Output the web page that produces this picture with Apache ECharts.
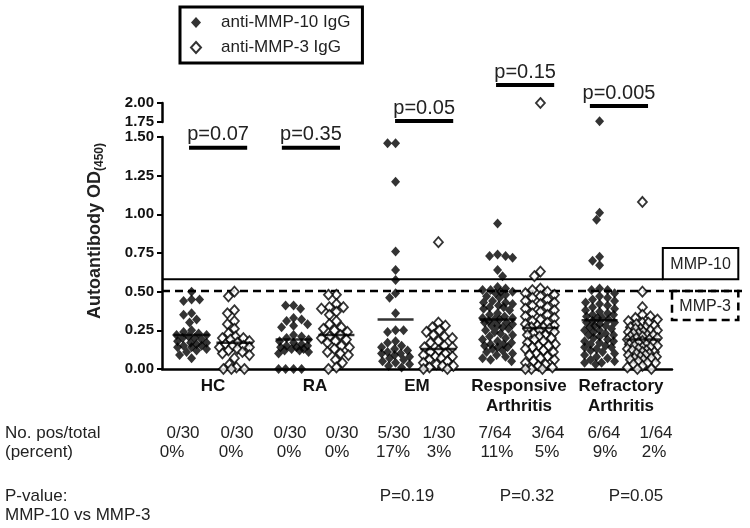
<!DOCTYPE html>
<html><head><meta charset="utf-8">
<script src="https://cdn.jsdelivr.net/npm/echarts@6/dist/echarts.min.js"></script>
<style>html,body{margin:0;padding:0;background:#fff}#c{width:750px;height:528px}</style>
</head><body><div id="c"></div>
<script>
// ---------------- DATA ----------------
const groups = ['HC', 'RA', 'EM', 'Responsive\nArthritis', 'Refractory\nArthritis'];
const yTicksLower = ['0.00','0.25','0.50','0.75','1.00','1.25','1.50'];
const yTicksUpper = ['1.75','2.00'];

const hcMmp10 = [0.50,0.45,0.44,0.45,0.36,0.35,0.32,0.30,0.25,0.24,0.23,0.22,0.22,0.21,0.20,0.20,0.19,0.18,0.17,0.17,0.16,0.15,0.15,0.14,0.14,0.13,0.12,0.11,0.09,0.07];
const hcMmp3 = [0.50,0.47,0.38,0.36,0.31,0.29,0.26,0.23,0.21,0.20,0.20,0.19,0.18,0.17,0.16,0.15,0.15,0.14,0.14,0.13,0.12,0.11,0.10,0.09,0.07,0.03,0.01,0.00,0.00,0.00];
const raMmp10 = [0.41,0.41,0.39,0.33,0.32,0.31,0.29,0.28,0.27,0.22,0.21,0.20,0.19,0.18,0.17,0.16,0.15,0.15,0.14,0.14,0.13,0.13,0.12,0.12,0.11,0.10,0.00,0.00,0.00,0.00];
const raMmp3 = [0.48,0.48,0.42,0.40,0.40,0.39,0.37,0.35,0.31,0.29,0.27,0.26,0.25,0.24,0.22,0.21,0.20,0.19,0.18,0.17,0.15,0.14,0.13,0.11,0.10,0.09,0.06,0.04,0.01,0.00];
const emMmp10 = [1.46,1.46,1.21,0.76,0.64,0.575,0.49,0.46,0.36,0.25,0.25,0.24,0.18,0.17,0.15,0.14,0.13,0.12,0.11,0.10,0.10,0.09,0.08,0.07,0.06,0.05,0.04,0.03,0.02,0.01];
const emMmp3 = [0.82,0.30,0.28,0.27,0.25,0.24,0.22,0.21,0.20,0.18,0.17,0.15,0.14,0.14,0.12,0.11,0.10,0.09,0.08,0.08,0.07,0.06,0.05,0.04,0.03,0.02,0.02,0.01,0.00,0.00];
const respMmp10 = [0.94,0.74,0.73,0.73,0.72,0.64,0.60,
  0.53,0.52,0.51,0.51,0.50,0.50,0.49,0.48,0.47,0.46,
  0.44,0.43,0.43,0.42,0.41,0.40,0.39,0.38,0.36,0.35,
  0.33,0.33,0.32,0.32,0.31,0.30,0.30,0.29,0.28,0.28,
  0.27,0.26,0.25,0.24,0.23,0.22,0.21,0.20,0.19,0.18,
  0.17,0.16,0.16,0.15,0.14,0.14,0.13,0.12,0.11,0.10,
  0.09,0.08,0.07,0.06,0.05,0.40,0.34];
const respMmp3 = [2.00,0.63,0.60,
  0.52,0.51,0.50,0.49,0.48,0.47,0.46,0.45,0.44,0.43,
  0.42,0.41,0.40,0.39,0.38,0.37,0.36,0.35,0.34,0.33,
  0.32,0.31,0.30,0.29,0.28,0.27,0.27,0.26,0.26,0.25,
  0.24,0.23,0.22,0.21,0.20,0.19,0.18,0.17,0.16,0.15,
  0.14,0.13,0.12,0.11,0.10,0.09,0.08,0.07,0.06,0.05,
  0.04,0.03,0.02,0.01,0.00,0.00,0.00,0.28,0.22,0.15];
const refrMmp10 = [1.76,1.01,0.965,0.725,0.70,0.67,
  0.52,0.51,0.51,0.49,0.47,0.46,0.45,0.44,0.43,0.42,
  0.41,0.40,0.39,0.38,0.37,0.36,0.35,0.34,0.33,0.33,
  0.32,0.31,0.30,0.30,0.29,0.28,0.27,0.26,0.25,0.25,
  0.24,0.23,0.22,0.21,0.20,0.19,0.18,0.18,0.17,0.16,
  0.15,0.14,0.13,0.12,0.11,0.10,0.09,0.08,0.07,0.06,
  0.05,0.04,0.04,0.03,0.35,0.28,0.22,0.14];
const refrMmp3 = [1.08,0.50,0.40,
  0.35,0.34,0.33,0.32,0.31,0.30,0.29,0.28,0.27,0.26,
  0.25,0.25,0.24,0.24,0.23,0.23,0.22,0.22,0.21,0.21,
  0.20,0.20,0.19,0.19,0.18,0.18,0.17,0.17,0.16,0.16,
  0.15,0.15,0.14,0.14,0.13,0.13,0.12,0.12,0.11,0.11,
  0.10,0.10,0.09,0.09,0.08,0.08,0.07,0.07,0.06,0.06,
  0.05,0.04,0.04,0.03,0.02,0.01,0.00,0.00,0.30,0.27,0.26];

const mmp10Lines = [0.22, 0.19, 0.32, 0.32, 0.315];
const mmp3Lines = [0.17, 0.22, 0.13, 0.265, 0.19];
const mmp10Cut = 0.58;
const mmp3Cut = 0.505;
const groupPLabels = ['p=0.07', 'p=0.35', 'p=0.05', 'p=0.15', 'p=0.005'];
const posTotal = ['0/30','0/30','0/30','0/30','5/30','1/30','7/64','3/64','6/64','1/64'];
const percent = ['0%','0%','0%','0%','17%','3%','11%','5%','9%','2%'];
const pairP = ['P=0.19', 'P=0.32', 'P=0.05'];

// ---------------- LAYOUT ----------------
const FONT = "'Liberation Sans', Arial, sans-serif";
const GRID_L = 162, GRID_W = 510, LOW_TOP = 137, LOW_H = 232, UP_TOP = 103, UP_H = 19;
const PX_X = GRID_W / 5, PX_Y = LOW_H / 1.5;
const COL_OFF = 0.21, DOT = 7.5, HALF = 15;
const pBarX = [0.55, 1.46, 2.57, 3.56, 4.48];
const pBarLevel = [1.43, 1.43, 1.603, 1.836, 1.70];
const posX = [183,237,290,342,394,439,495,548,604,656];
const pctX = [172,231,289,337,393,439,497,547,605,654];
const pairPX = [407, 527, 636];

function swarm(vals, center, pxy) {
  const order = vals.map((v, i) => i).sort((a, b) => vals[b] - vals[a] || a - b);
  const placed = [], res = [];
  order.forEach((i, n) => {
    const py = vals[i] * pxy;
    let chosen = null, fb = 0, fbScore = -1;
    const sgn = n % 2 ? -1 : 1;
    for (let k = 0; k <= HALF && chosen === null; k++) {
      const cands = k === 0 ? [0] : [sgn * k, -sgn * k];
      for (const s of cands) {
        let m = Infinity;
        for (const p of placed) { const d = Math.hypot(p[0] - s, p[1] - py); if (d < m) m = d; }
        if (m >= DOT) { chosen = s; break; }
        if (m > fbScore + 0.5) { fbScore = m; fb = s; }
      }
    }
    if (chosen === null) chosen = fb;
    placed.push([chosen, py]);
    res.push([center + chosen / PX_X, vals[i]]);
  });
  return res;
}

const mmp10Groups = [hcMmp10, raMmp10, emMmp10, respMmp10, refrMmp10];
const mmp3Groups = [hcMmp3, raMmp3, emMmp3, respMmp3, refrMmp3];
function build(groupsArr, off) {
  let low = [], up = [];
  groupsArr.forEach((vals, g) => {
    const c = g + 0.5 + off;
    low = low.concat(swarm(vals.filter(v => v <= 1.5), c, PX_Y));
    up = up.concat(swarm(vals.filter(v => v > 1.5), c, 76));
  });
  return { low, up };
}
const f = build(mmp10Groups, -COL_OFF);
const o = build(mmp3Groups, COL_OFF);
const lineData = [];
mmp10Lines.forEach((v, g) => lineData.push([g + 0.5 - COL_OFF, v]));
mmp3Lines.forEach((v, g) => lineData.push([g + 0.5 + COL_OFF, v]));

const filledStyle = { color: '#000' };
const openStyle = { color: '#fff', borderColor: '#000', borderWidth: 1.8 };
const N10 = 'anti-MMP-10 IgG', N3 = 'anti-MMP-3 IgG';

const axisLab = { color: '#111', fontSize: 15, fontWeight: 'bold', fontFamily: FONT, margin: 8, showMinLabel: true, showMaxLabel: true, formatter: v => v.toFixed(2) };

const texts = [];
const tStyle = (t, x, y, align) => ({ type: 'text', x, y, style: { text: t, font: '17px ' + FONT, fill: '#222', align: align || 'center', textAlign: align || 'center', verticalAlign: 'middle', textVerticalAlign: 'middle' } });
texts.push(tStyle('No. pos/total', 5, 433, 'left'));
texts.push(tStyle('(percent)', 5, 452, 'left'));
texts.push(tStyle('P-value:', 5, 496, 'left'));
texts.push(tStyle('MMP-10 vs MMP-3', 5, 515, 'left'));
posTotal.forEach((t, i) => texts.push(tStyle(t, posX[i], 433)));
percent.forEach((t, i) => texts.push(tStyle(t, pctX[i], 452)));
pairP.forEach((t, i) => texts.push(tStyle(t, pairPX[i], 496)));
texts.push({ type: 'text', x: 95, y: 231, rotation: Math.PI / 2,
  style: { text: '{a|Autoantibody OD}{s|(450)}', align: 'center', textAlign: 'center', verticalAlign: 'middle', textVerticalAlign: 'middle',
    rich: { a: { fontSize: 18, fontWeight: 'bold', fontFamily: FONT, fill: '#222', lineHeight: 22, verticalAlign: 'middle' },
            s: { fontSize: 12, fontWeight: 'bold', fontFamily: FONT, fill: '#222', lineHeight: 22, verticalAlign: 'bottom' } } } });

const chart = echarts.init(document.getElementById('c'));
chart.setOption({
  animation: false,
  backgroundColor: '#fff',
  textStyle: { fontFamily: FONT },
  legend: {
    data: [N10, N3], left: 180, top: 7, orient: 'vertical',
    borderColor: '#000', borderWidth: 3, padding: [7, 12, 7, 10], itemGap: 8,
    itemWidth: 10, itemHeight: 11, icon: 'diamond',
    textStyle: { fontSize: 17, color: '#222', fontFamily: FONT, padding: [0, 0, 0, 15] }
  },
  grid: [
    { left: GRID_L, top: LOW_TOP, width: GRID_W, height: LOW_H },
    { left: GRID_L, top: UP_TOP, width: GRID_W, height: UP_H }
  ],
  xAxis: [
    { type: 'category', gridIndex: 0, data: groups, boundaryGap: true,
      axisLine: { lineStyle: { color: '#000', width: 2.5 } },
      axisTick: { alignWithLabel: true, length: 5, lineStyle: { color: '#000', width: 2 } },
      axisLabel: { interval: 0, margin: 7, color: '#111', fontSize: 17, fontWeight: 'bold', lineHeight: 20, fontFamily: FONT },
      splitLine: { show: false } },
    { type: 'value', gridIndex: 0, min: 0, max: 5, show: false },
    { type: 'value', gridIndex: 1, min: 0, max: 5, show: false }
  ],
  yAxis: [
    { type: 'value', gridIndex: 0, min: 0, max: 1.5, interval: 0.25,
      axisLine: { show: true, lineStyle: { color: '#000', width: 2.5 } },
      axisTick: { show: true, length: 5, lineStyle: { color: '#000', width: 2 } },
      axisLabel: axisLab, splitLine: { show: false } },
    { type: 'value', gridIndex: 1, min: 1.75, max: 2.0, interval: 0.25,
      axisLine: { show: true, lineStyle: { color: '#000', width: 2.5 } },
      axisTick: { show: true, length: 5, lineStyle: { color: '#000', width: 2 } },
      axisLabel: axisLab, splitLine: { show: false } }
  ],
  series: [
    { type: 'custom', xAxisIndex: 1, yAxisIndex: 0, clip: false, silent: true, z: 1, data: [[0, 0]],
      renderItem: (p, api) => {
        const a = api.coord([0, mmp10Cut]), b = api.coord([4.91, mmp10Cut]);
        const bx1 = api.coord([5.65, 0.782]);
        const c = api.coord([0, mmp3Cut]), d = api.coord([5.70, mmp3Cut]);
        const e1 = api.coord([5.0, mmp3Cut]), e2 = api.coord([5.65, 0.317]);
        return { type: 'group', children: [
          { type: 'line', shape: { x1: a[0], y1: a[1], x2: b[0], y2: b[1] }, style: { stroke: '#000', lineWidth: 2 } },
          { type: 'rect', shape: { x: b[0], y: bx1[1], width: bx1[0] - b[0], height: b[1] - bx1[1] }, style: { fill: '#fff', stroke: '#000', lineWidth: 2 } },
          { type: 'text', style: { text: 'MMP-10', x: (b[0] + bx1[0]) / 2, y: (b[1] + bx1[1]) / 2 + 1, align: 'center', verticalAlign: 'middle', fontSize: 16, fontFamily: FONT, fill: '#222' } },
          { type: 'line', shape: { x1: c[0], y1: c[1], x2: d[0], y2: d[1] }, style: { stroke: '#000', lineWidth: 2.5, lineDash: [8, 5] } },
          { type: 'rect', shape: { x: e1[0], y: e1[1], width: e2[0] - e1[0], height: e2[1] - e1[1] }, style: { fill: 'none', stroke: '#000', lineWidth: 2.5, lineDash: [8, 5] } },
          { type: 'text', style: { text: 'MMP-3', x: (e1[0] + e2[0]) / 2, y: (e1[1] + e2[1]) / 2 + 1, align: 'center', verticalAlign: 'middle', fontSize: 16, fontFamily: FONT, fill: '#222' } }
        ] };
      } },
    { type: 'custom', xAxisIndex: 1, yAxisIndex: 0, clip: false, silent: true, z: 5,
      data: pBarX.map((x, i) => [x, pBarLevel[i], i]),
      renderItem: (p, api) => {
        const x = api.value(0), y = api.value(1), i = api.value(2);
        const l = api.coord([x - 0.285, y]), r = api.coord([x + 0.285, y]);
        return { type: 'group', children: [
          { type: 'line', shape: { x1: l[0], y1: l[1], x2: r[0], y2: r[1] }, style: { stroke: '#000', lineWidth: 4 } },
          { type: 'text', style: { text: groupPLabels[i], x: (l[0] + r[0]) / 2, y: l[1] - 3, align: 'center', verticalAlign: 'bottom', fontSize: 20, fontFamily: FONT, fill: '#222' } }
        ] };
      } },
    { name: N10, type: 'scatter', xAxisIndex: 1, yAxisIndex: 0, data: f.low, symbol: 'diamond', symbolSize: [9, 10], itemStyle: filledStyle, clip: false, z: 3 },
    { name: N3, type: 'scatter', xAxisIndex: 1, yAxisIndex: 0, data: o.low, symbol: 'diamond', symbolSize: [9, 10], itemStyle: openStyle, clip: false, z: 3 },
    { name: N10, type: 'scatter', xAxisIndex: 2, yAxisIndex: 1, data: f.up, symbol: 'diamond', symbolSize: [9, 10], itemStyle: filledStyle, clip: false, z: 3 },
    { name: N3, type: 'scatter', xAxisIndex: 2, yAxisIndex: 1, data: o.up, symbol: 'diamond', symbolSize: [9, 10], itemStyle: openStyle, clip: false, z: 3 },
    { type: 'scatter', xAxisIndex: 1, yAxisIndex: 0, data: lineData, symbol: 'rect', symbolSize: [36, 2.5], itemStyle: { color: '#000' }, clip: false, z: 4, silent: true }
  ],
  graphic: texts
});
</script></body></html>
